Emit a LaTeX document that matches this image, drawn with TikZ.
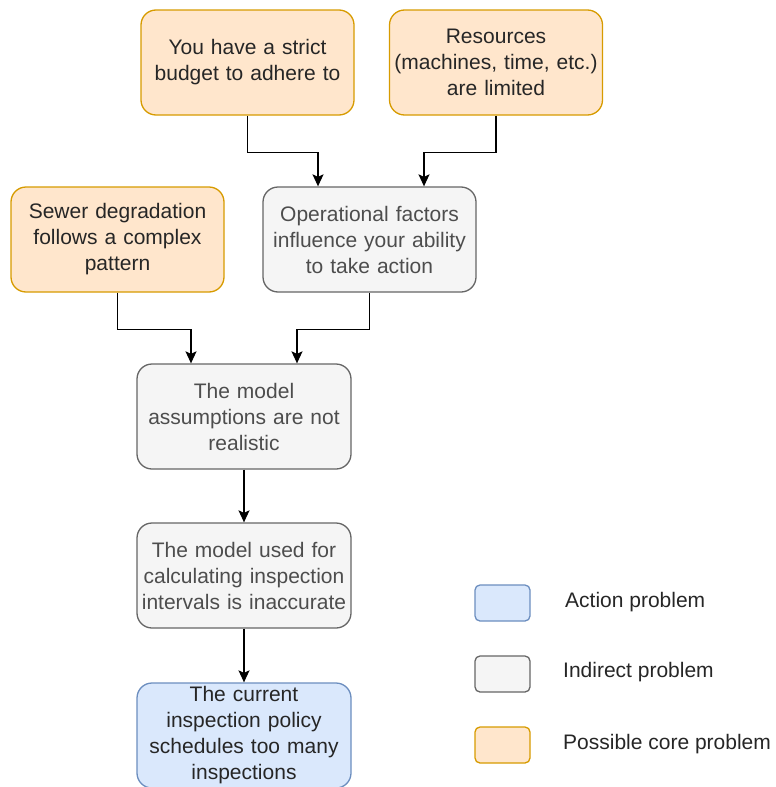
\documentclass[tikz,border=0pt]{standalone}
\usepackage{fontspec}
\setmainfont{Liberation Sans}
\usetikzlibrary{arrows.meta}
\definecolor{orfill}{HTML}{FFE6CC}
\definecolor{orline}{HTML}{D79B00}
\definecolor{grfill}{HTML}{F5F5F5}
\definecolor{grline}{HTML}{666666}
\definecolor{blfill}{HTML}{DAE8FC}
\definecolor{blline}{HTML}{6C8EBF}
\definecolor{darktxt}{HTML}{262626}
\definecolor{graytxt}{HTML}{4D4D4D}
\begin{document}
\begin{tikzpicture}[x=1pt,y=-1pt,
  box/.style={rounded corners=15pt, line width=1.3pt, minimum width=213pt, minimum height=105pt,
    align=center, inner sep=0pt, text width=212pt,
    font=\fontsize{21}{26}\selectfont},
  corebox/.style={box, fill=orfill, draw=orline, text=darktxt},
  indbox/.style={box, fill=grfill, draw=grline, text=graytxt},
  actbox/.style={box, fill=blfill, draw=blline, text=darktxt},
  legbox/.style={rounded corners=5pt, line width=1.3pt, minimum width=55pt, minimum height=36pt, inner sep=0pt},
  legtxt/.style={anchor=west, inner sep=0pt, text=darktxt, font=\fontsize{21}{26}\selectfont},
  arr/.style={line width=1.5pt, -{Stealth[length=12pt,width=11pt,inset=2.5pt]}}
]
\useasboundingbox (0,0) rectangle (776,787);
\node[corebox] (budget) at (247.5,62.5) {You have a strict\\budget to adhere to};
\node[corebox] (resources) at (496,62.5) {Resources\\(machines, time, etc.)\\are limited};
\node[corebox] (sewer) at (117.5,239.5) {Sewer degradation\\follows a complex\\pattern};
\node[indbox] (oper) at (369.5,239.5) {Operational factors\\influence your ability\\to take action};
\node[indbox, minimum width=214pt] (assum) at (244,416.5) {The model\\assumptions are not\\realistic};
\node[indbox, minimum width=214pt] (used) at (244,575.5) {The model used for\\calculating inspection\\intervals is inaccurate};
\node[actbox, minimum width=214pt] (current) at (244,735.5) {The current\\inspection policy\\schedules too many\\inspections};

\draw[arr] (budget.south) -- ++(0,37) -| ([xshift=-51.5pt]oper.north);
\draw[arr] (resources.south) -- ++(0,37) -| ([xshift=54.5pt]oper.north);
\draw[arr] (sewer.south) -- ++(0,37) -| ([xshift=-53pt]assum.north);
\draw[arr] (oper.south) -- ++(0,37) -| ([xshift=53pt]assum.north);
\draw[arr] (assum.south) -- (used.north);
\draw[arr] (used.south) -- (current.north);

\node[legbox, fill=blfill, draw=blline] (lact) at (502.5,603) {};
\node[legbox, fill=grfill, draw=grline] (lind) at (502.5,674) {};
\node[legbox, fill=orfill, draw=orline] (lcore) at (502.5,745) {};
\node[legtxt] (tact) at (565,602) {Action problem};
\node[legtxt] (tind) at (563,672) {Indirect problem};
\node[legtxt] (tcore) at (563,744) {Possible core problem};
\end{tikzpicture}
\end{document}
